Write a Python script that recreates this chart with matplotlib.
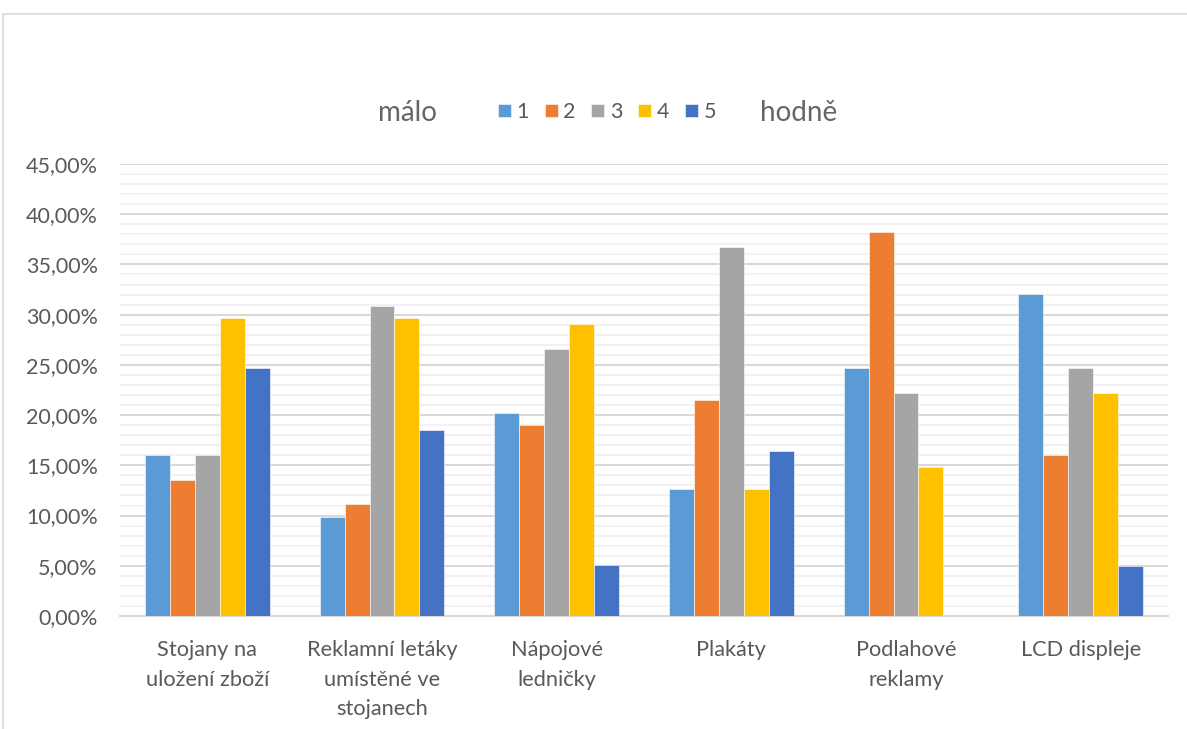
import matplotlib
matplotlib.use("Agg")
import matplotlib.pyplot as plt
from matplotlib.patches import Rectangle
from matplotlib.ticker import MultipleLocator, FuncFormatter
import numpy as np

plt.rcParams['font.family'] = ['Lato', 'DejaVu Sans']

categories = ["Stojany na\nuložení zboží", "Reklamní letáky\numístěné ve\nstojanech",
              "Nápojové\nledničky", "Plakáty", "Podlahové\nreklamy", "LCD displeje"]
series_labels = ["1", "2", "3", "4", "5"]
s1 = [16.05, 9.88, 20.25, 12.66, 24.69, 32.10]
s2 = [13.58, 11.11, 18.99, 21.52, 38.27, 16.05]
s3 = [16.05, 30.86, 26.58, 36.71, 22.22, 24.69]
s4 = [29.63, 29.63, 29.11, 12.66, 14.81, 22.22]
s5 = [24.69, 18.52, 5.06, 16.46, 0.00, 4.94]
series = [s1, s2, s3, s4, s5]
colors = ["#5B9BD5", "#ED7D31", "#A5A5A5", "#FFC000", "#4472C4"]
left_text = "málo"
right_text = "hodně"

W, H = 1187, 729
fig = plt.figure(figsize=(W/100, H/100), dpi=100)
ax = fig.add_axes([120/W, 1-616/H, 1048/W, (616-164)/H])

x = np.arange(len(categories))
bw = 0.143
for i, (vals, c, lab) in enumerate(zip(series, colors, series_labels)):
    ax.bar(x + (i-2)*bw, np.array(vals)/100, width=bw, color=c, label=lab,
           edgecolor='white', linewidth=0.4, zorder=3)

ax.set_xlim(-0.5, len(categories)-0.5)
ax.set_ylim(0, 0.45)
ax.yaxis.set_major_locator(MultipleLocator(0.05))
ax.yaxis.set_minor_locator(MultipleLocator(0.01))
ax.yaxis.set_major_formatter(FuncFormatter(lambda v, p: f"{v*100:.2f}%".replace('.', ',')))
ax.grid(which='major', axis='y', color='#D9D9D9', linewidth=1.5, zorder=1)
ax.grid(which='minor', axis='y', color='#F2F2F2', linewidth=1.5, zorder=0)
for s in ['top', 'right', 'left']:
    ax.spines[s].set_visible(False)
ax.spines['bottom'].set_color('#D9D9D9')
ax.spines['bottom'].set_linewidth(1.5)
ax.tick_params(axis='both', which='both', length=0, colors='#595959')
ax.tick_params(axis='y', pad=16, labelsize=15.5)
ax.tick_params(axis='x', pad=17, labelsize=15.7)
ax.set_xticks(x)
ax.set_xticklabels(categories, linespacing=1.62)

leg = fig.legend(loc='center', bbox_to_anchor=(607/W, 1-112/H), ncol=5, frameon=False,
                 fontsize=15.5, handlelength=0.6, handleheight=0.6, handletextpad=0.25,
                 columnspacing=0.75, borderpad=0, borderaxespad=0)
for t in leg.get_texts():
    t.set_color('#595959')

fig.text(407/W, 1-113/H, left_text, ha='center', va='center', fontsize=20,
         color='#666666')
fig.text(799/W, 1-113/H, right_text, ha='center', va='center', fontsize=20,
         color='#666666')

fig.patches.append(Rectangle((3/W, -0.1), 1.2, 1.1 - 14/H, transform=fig.transFigure,
                             fill=False, edgecolor='#D9D9D9', linewidth=1.2))

fig.savefig("out.png", dpi=100)
